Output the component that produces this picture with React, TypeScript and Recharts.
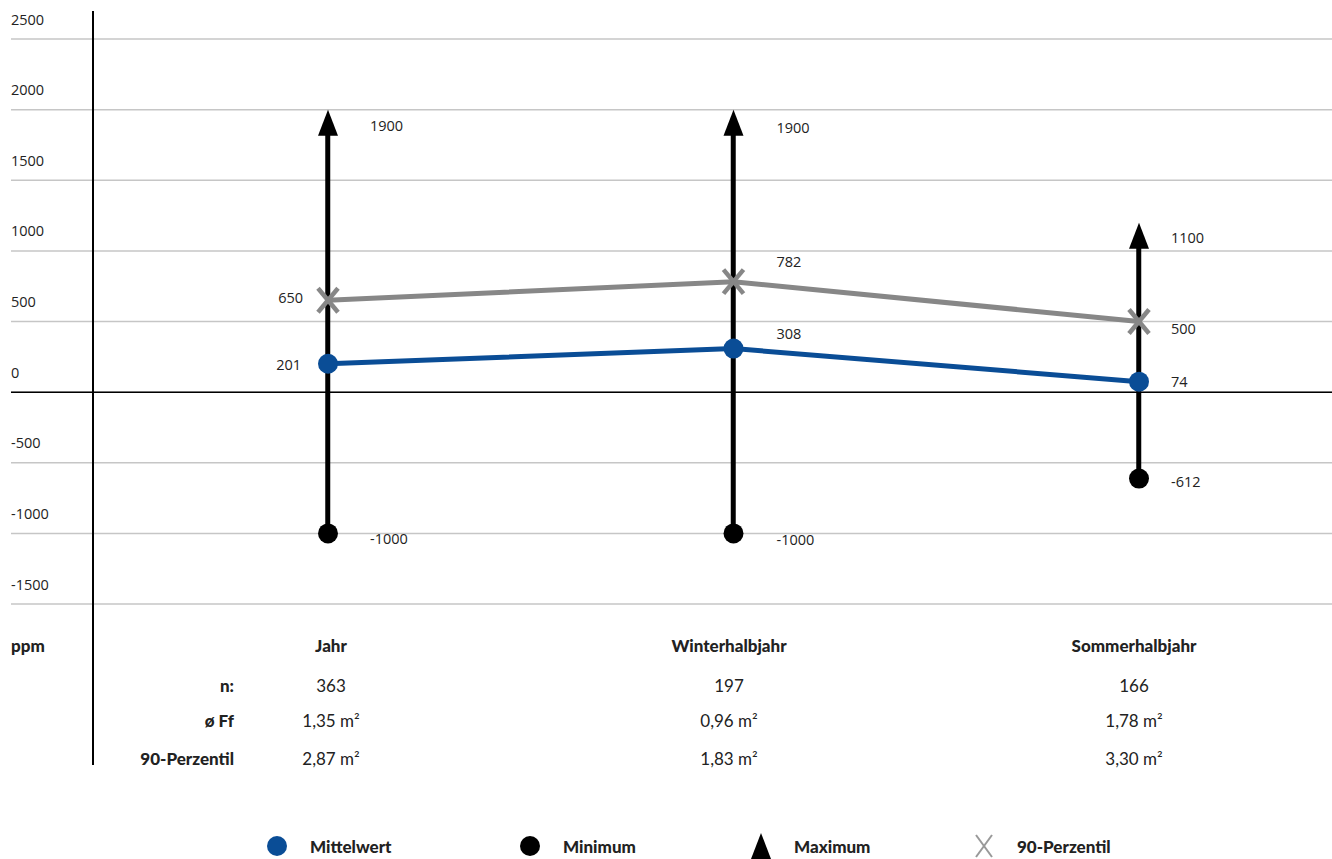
import React from 'react';
import {
  ComposedChart,
  Line,
  Bar,
  XAxis,
  YAxis,
  CartesianGrid,
  ReferenceLine,
  LabelList,
} from 'recharts';

const categories = ['Jahr', 'Winterhalbjahr', 'Sommerhalbjahr'];
const mittelwert = [201, 308, 74];
const minimum = [-1000, -1000, -612];
const maximum = [1900, 1900, 1100];
const perzentil90 = [650, 782, 500];
const yTicks = [-1500, -1000, -500, 0, 500, 1000, 1500, 2000, 2500];

const nValues = ['363', '197', '166'];
const ffValues = ['1,35 m²', '0,96 m²', '1,78 m²'];
const p90Areas = ['2,87 m²', '1,83 m²', '3,30 m²'];
const rowLabels = ['n:', 'ø Ff', '90-Perzentil'];
const legendItems = ['Mittelwert', 'Minimum', 'Maximum', '90-Perzentil'];

const BLUE = '#0a4d96';
const GRAY = '#878787';
const TEXT = '#222';
const NUM_FONT = '"Open Sans", sans-serif';
const TABLE_FONT = 'Lato, sans-serif';

const data = categories.map((name, i) => ({
  name,
  mean: mittelwert[i],
  min: minimum[i],
  max: maximum[i],
  p90: perzentil90[i],
  range: [minimum[i], maximum[i]],
}));

// label placement per point: [dx, dy, anchor]
const LABEL_POS: Record<string, [number, number, string][]> = {
  max: [[42, 2, 'start'], [43, 4, 'start'], [32, 1, 'start']],
  min: [[42, 5, 'start'], [43, 6, 'start'], [32, 3, 'start']],
  p90: [[-25, -3, 'end'], [43, -20, 'start'], [32, 7, 'start']],
  mean: [[-27, 1, 'end'], [43, -15, 'start'], [32, 0, 'start']],
};

const makeLabel = (key: string) => (props: any) => {
  const { x, y, value, index } = props;
  const [dx, dy, anchor] = LABEL_POS[key][index];
  return (
    <text
      x={x + dx}
      y={y + dy}
      textAnchor={anchor as any}
      dominantBaseline="central"
      fontFamily={NUM_FONT}
      fontSize={14.5}
      fill={TEXT}
    >
      {value}
    </text>
  );
};

const renderYTick = (props: any) => {
  const { y, payload, index } = props;
  return (
    <text
      key={index}
      x={11}
      y={y - 20}
      dominantBaseline="central"
      fontFamily={NUM_FONT}
      fontSize={14.5}
      fill={TEXT}
    >
      {payload.value}
    </text>
  );
};

const CircleDot = (color: string) => (props: any) => {
  const { cx, cy, index } = props;
  if (cx == null || cy == null) return <g key={index} />;
  return <circle key={index} cx={cx} cy={cy} r={10} fill={color} />;
};

const TriangleDot = (props: any) => {
  const { cx, cy, index } = props;
  if (cx == null || cy == null) return <g key={index} />;
  return <polygon key={index} points={`${cx},${cy - 14} ${cx - 10},${cy + 12} ${cx + 10},${cy + 12}`} fill="#000" />;
};

const CrossDot = (props: any) => {
  const { cx, cy, index } = props;
  if (cx == null || cy == null) return <g key={index} />;
  return (
    <g key={index} stroke={GRAY} strokeWidth={4.5}>
      <line x1={cx - 10} y1={cy - 12} x2={cx + 10} y2={cy + 12} />
      <line x1={cx + 10} y1={cy - 12} x2={cx - 10} y2={cy + 12} />
    </g>
  );
};

const LegendMarker = ({ kind }: { kind: number }) => (
  <svg width={24} height={26} style={{ display: 'block' }}>
    {kind === 0 && <circle cx={12} cy={13} r={10} fill={BLUE} />}
    {kind === 1 && <circle cx={12} cy={13} r={10} fill="#000" />}
    {kind === 2 && <polygon points="12,0 2,26 22,26" fill="#000" />}
    {kind === 3 && (
      <g stroke="#999" strokeWidth={2}>
        <line x1={4} y1={2} x2={20} y2={24} />
        <line x1={20} y1={2} x2={4} y2={24} />
      </g>
    )}
  </svg>
);

const colX = [331, 729, 1134];
const rowY = [685, 720, 758];
const legendX = [265, 518, 749, 972];

export default function App() {
  const rows = [nValues, ffValues, p90Areas];
  return (
    <div style={{ position: 'relative', width: 1332, height: 859, background: '#fff' }}>
      <style>{`body{margin:0}`}</style>
      <ComposedChart
        width={1332}
        height={859}
        data={data}
        margin={{ top: 39, right: 0, bottom: 255, left: 10 }}
      >
        <CartesianGrid vertical={false} stroke="#c6c6c6" strokeWidth={1.5} />
        <XAxis dataKey="name" type="category" scale="point" padding={{ left: 317, right: 193 }} hide />
        <YAxis
          type="number"
          domain={[-1500, 2500]}
          ticks={yTicks}
          width={1}
          axisLine={false}
          tickLine={false}
          tick={renderYTick}
          interval={0}
        />
        <ReferenceLine y={0} stroke="#000" strokeWidth={1.5} />
        <Bar dataKey="range" barSize={5} fill="#000" isAnimationActive={false} />
        <Line
          dataKey="p90"
          stroke={GRAY}
          strokeWidth={5}
          dot={CrossDot}
          activeDot={false}
          isAnimationActive={false}
        >
          <LabelList dataKey="p90" content={makeLabel('p90')} />
        </Line>
        <Line
          dataKey="mean"
          stroke={BLUE}
          strokeWidth={5}
          dot={CircleDot(BLUE)}
          activeDot={false}
          isAnimationActive={false}
        >
          <LabelList dataKey="mean" content={makeLabel('mean')} />
        </Line>
        <Line
          dataKey="min"
          stroke="none"
          dot={CircleDot('#000')}
          activeDot={false}
          isAnimationActive={false}
        >
          <LabelList dataKey="min" content={makeLabel('min')} />
        </Line>
        <Line
          dataKey="max"
          stroke="none"
          dot={TriangleDot}
          activeDot={false}
          isAnimationActive={false}
        >
          <LabelList dataKey="max" content={makeLabel('max')} />
        </Line>
      </ComposedChart>

      {/* vertical axis line */}
      <div style={{ position: 'absolute', left: 92, top: 11, width: 1.5, height: 754, background: '#000' }} />

      {/* table under the chart */}
      <div
        style={{
          position: 'absolute', left: 11, top: 645, transform: 'translateY(-50%)',
          fontFamily: TABLE_FONT, fontWeight: 900, fontSize: 17, color: TEXT,
        }}
      >
        ppm
      </div>
      {categories.map((c, i) => (
        <div
          key={c}
          style={{
            position: 'absolute', left: colX[i], top: 645, transform: 'translate(-50%, -50%)',
            fontFamily: TABLE_FONT, fontWeight: 900, fontSize: 17, color: TEXT, whiteSpace: 'nowrap',
          }}
        >
          {c}
        </div>
      ))}
      {rowLabels.map((lab, r) => (
        <React.Fragment key={lab}>
          <div
            style={{
              position: 'absolute', right: 1332 - 234, top: rowY[r], transform: 'translateY(-50%)',
              fontFamily: TABLE_FONT, fontWeight: 900, fontSize: 17, color: TEXT, whiteSpace: 'nowrap',
            }}
          >
            {lab}
          </div>
          {rows[r].map((v, i) => (
            <div
              key={i}
              style={{
                position: 'absolute', left: colX[i], top: rowY[r], transform: 'translate(-50%, -50%)',
                fontFamily: TABLE_FONT, fontSize: 17, color: TEXT, whiteSpace: 'nowrap',
              }}
            >
              {v}
            </div>
          ))}
        </React.Fragment>
      ))}

      {/* legend */}
      {legendItems.map((name, i) => (
        <div
          key={name}
          style={{
            position: 'absolute', left: legendX[i], top: 846, transform: 'translateY(-50%)',
            display: 'flex', alignItems: 'center', gap: 21,
            fontFamily: TABLE_FONT, fontWeight: 900, fontSize: 17, color: TEXT, whiteSpace: 'nowrap',
          }}
        >
          <LegendMarker kind={i} />
          <span>{name}</span>
        </div>
      ))}
    </div>
  );
}
